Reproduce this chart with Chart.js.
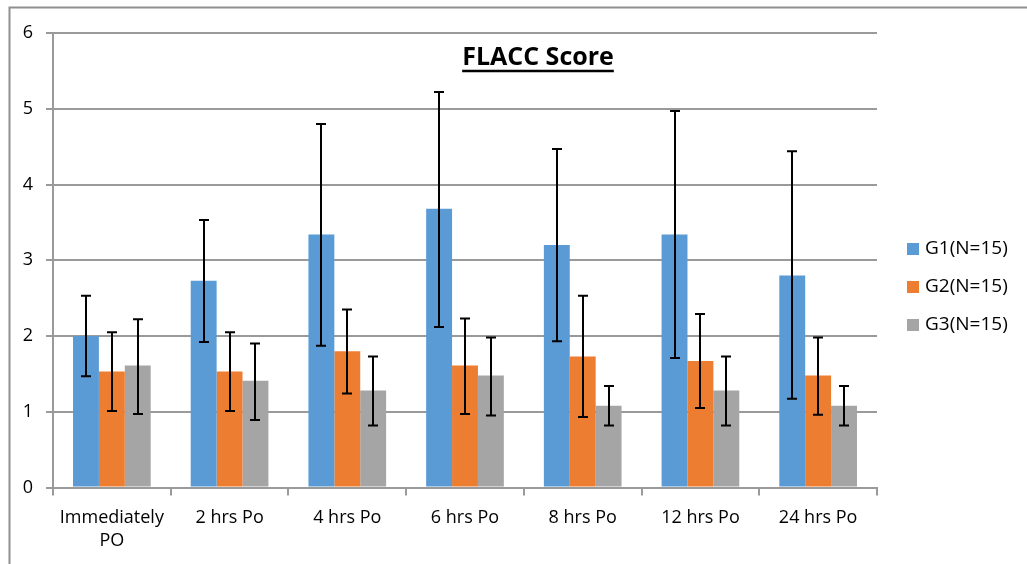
<!DOCTYPE html>
<html>
<head>
<meta charset="utf-8">
<title>FLACC Score</title>
<script src="https://cdn.jsdelivr.net/npm/chart.js@4"></script>
<style>
  html, body { margin: 0; padding: 0; background: #fff; }
  #wrap { width: 1027px; height: 564px; position: relative; }
</style>
</head>
<body>
<div id="wrap"><canvas id="flaccChart"></canvas></div>
<script>
const labels = [["Immediately", "PO"], "2 hrs Po", "4 hrs Po", "6 hrs Po", "8 hrs Po", "12 hrs Po", "24 hrs Po"];
const seriesNames = ["G1(N=15)", "G2(N=15)", "G3(N=15)"];

const g1 = [2.0, 2.73, 3.34, 3.68, 3.20, 3.34, 2.80];
const g1Hi = [2.53, 3.53, 4.80, 5.22, 4.47, 4.97, 4.44];
const g1Lo = [1.47, 1.92, 1.87, 2.12, 1.93, 1.71, 1.17];

const g2 = [1.53, 1.53, 1.80, 1.61, 1.73, 1.67, 1.48];
const g2Hi = [2.05, 2.05, 2.35, 2.23, 2.53, 2.29, 1.98];
const g2Lo = [1.01, 1.01, 1.24, 0.97, 0.93, 1.05, 0.96];

const g3 = [1.61, 1.41, 1.28, 1.48, 1.08, 1.28, 1.08];
const g3Hi = [2.22, 1.90, 1.73, 1.98, 1.34, 1.73, 1.34];
const g3Lo = [0.97, 0.89, 0.82, 0.95, 0.82, 0.82, 0.82];

const yTicks = [0, 1, 2, 3, 4, 5, 6];

const FONT = "'Open Sans', 'DejaVu Sans', sans-serif";
const gridColor = "#9a9a9a";

// outer frame (top + left edge of the picture)
const framePlugin = {
    id: "frame",
    beforeDraw(chart) {
        const ctx = chart.ctx;
        ctx.save();
        ctx.strokeStyle = "#8f8f8f";
        ctx.lineWidth = 2;
        ctx.beginPath();
        ctx.moveTo(chart.width, 7.5);
        ctx.lineTo(9.5, 7.5);
        ctx.lineTo(9.5, chart.height);
        ctx.stroke();
        ctx.restore();
    }
};

// error bars on top of each bar
const errorBarPlugin = {
    id: "errorBars",
    afterDatasetsDraw(chart) {
        const ctx = chart.ctx;
        const yScale = chart.scales.y;
        ctx.save();
        ctx.strokeStyle = "#000";
        ctx.lineWidth = 2;
        chart.data.datasets.forEach((ds, i) => {
            const meta = chart.getDatasetMeta(i);
            meta.data.forEach((bar, j) => {
                const x = Math.round(bar.x);
                const yHi = yScale.getPixelForValue(ds.errHi[j]);
                const yLo = yScale.getPixelForValue(ds.errLo[j]);
                ctx.beginPath();
                ctx.moveTo(x, yHi);
                ctx.lineTo(x, yLo);
                ctx.moveTo(x - 5, yHi);
                ctx.lineTo(x + 5, yHi);
                ctx.moveTo(x - 5, yLo);
                ctx.lineTo(x + 5, yLo);
                ctx.stroke();
            });
        });
        ctx.restore();
    }
};

// underlined title inside the plot + legend on the right
const titleLegendPlugin = {
    id: "titleLegend",
    afterDraw(chart) {
        const ctx = chart.ctx;
        ctx.save();
        ctx.font = "bold 25px " + FONT;
        ctx.fillStyle = "#000";
        ctx.textAlign = "center";
        ctx.textBaseline = "alphabetic";
        const title = "FLACC Score";
        const tx = 538, ty = 65;
        ctx.fillText(title, tx, ty);
        const w = ctx.measureText(title).width;
        ctx.strokeStyle = "#000";
        ctx.lineWidth = 2.5;
        ctx.beginPath();
        ctx.moveTo(tx - w / 2, 71);
        ctx.lineTo(tx + w / 2, 71);
        ctx.stroke();

        ctx.font = "19px " + FONT;
        ctx.textAlign = "left";
        ctx.textBaseline = "middle";
        chart.data.datasets.forEach((ds, i) => {
            const cy = 249 + i * 38;
            ctx.fillStyle = ds.backgroundColor;
            ctx.fillRect(907, cy - 6, 12, 12);
            ctx.fillStyle = "#000";
            ctx.fillText(ds.label, 925, cy);
        });
        ctx.restore();
    }
};

const ctx = document.getElementById("flaccChart").getContext("2d");
new Chart(ctx, {
    type: "bar",
    data: {
        labels: labels,
        datasets: [
            { label: seriesNames[0], data: g1, errHi: g1Hi, errLo: g1Lo, backgroundColor: "#5b9bd5" },
            { label: seriesNames[1], data: g2, errHi: g2Hi, errLo: g2Lo, backgroundColor: "#ed7d31" },
            { label: seriesNames[2], data: g3, errHi: g3Hi, errLo: g3Lo, backgroundColor: "#a5a5a5" }
        ]
    },
    options: {
        responsive: true,
        maintainAspectRatio: false,
        animation: false,
        categoryPercentage: 0.66,
        barPercentage: 1.0,
        layout: { padding: { top: 33, right: 150, left: 0, bottom: 0 } },
        plugins: {
            legend: { display: false },
            title: { display: false },
            tooltip: { enabled: false }
        },
        scales: {
            x: {
                grid: {
                    offset: true,
                    drawOnChartArea: false,
                    drawTicks: true,
                    tickLength: 8,
                    color: gridColor,
                    lineWidth: 2
                },
                border: { color: gridColor, width: 2 },
                ticks: {
                    color: "#000",
                    font: { family: FONT, size: 18, lineHeight: 1.32 },
                    padding: 10,
                    maxRotation: 0,
                    autoSkip: false
                },
                afterFit(scale) { scale.height = 76.5; }
            },
            y: {
                min: 0,
                max: 6,
                afterBuildTicks(scale) { scale.ticks = yTicks.map(v => ({ value: v })); },
                grid: {
                    color: gridColor,
                    lineWidth: 2,
                    drawTicks: true,
                    tickLength: 7
                },
                border: { color: gridColor, width: 2 },
                ticks: {
                    color: "#000",
                    font: { family: FONT, size: 18 },
                    padding: 13
                },
                afterFit(scale) { scale.width = 53; }
            }
        }
    },
    plugins: [framePlugin, errorBarPlugin, titleLegendPlugin]
});
</script>
</body>
</html>
